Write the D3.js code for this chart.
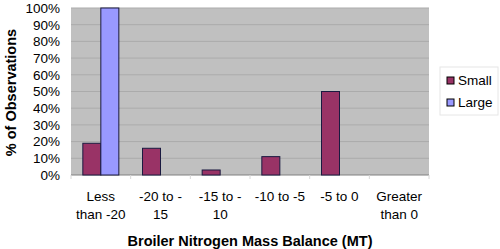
<!DOCTYPE html>
<html>
<head>
<meta charset="utf-8">
<script src="https://cdn.jsdelivr.net/npm/d3@7"></script>
<style>
  html, body { margin: 0; padding: 0; background: #fff; }
  svg { display: block; font-family: "Liberation Sans", Arial, sans-serif; }
</style>
</head>
<body>
<svg id="chart" width="500" height="249"></svg>
<script>
// ---- data ----
const categories = ['Less|than -20', '-20 to -|15', '-15 to -|10', '-10 to -5', '-5 to 0', 'Greater|than 0'];
const series = ['Small', 'Large'];
const smallValues = [19, 16, 3, 11, 50, 0];
const largeValues = [100, 0, 0, 0, 0, 0];
const yTicks = [0, 10, 20, 30, 40, 50, 60, 70, 80, 90, 100];
const colors = { Small: '#993366', Large: '#9999ff' };

const svg = d3.select('#chart');
const margin = { top: 8, right: 71, bottom: 74, left: 71 };
const W = 500, H = 249;
const iW = W - margin.left - margin.right;
const iH = H - margin.top - margin.bottom;

const x = d3.scaleBand().domain(d3.range(categories.length))
  .range([margin.left, margin.left + iW]);
const y = d3.scaleLinear().domain([0, 100]).range([margin.top + iH, margin.top]);
const barW = 18;

// plot area
svg.append('rect')
  .attr('x', margin.left).attr('y', margin.top)
  .attr('width', iW).attr('height', iH)
  .attr('fill', '#c0c0c0');

// gridlines
svg.append('g').selectAll('line')
  .data(yTicks.slice(1))
  .join('line')
  .attr('x1', margin.left).attr('x2', margin.left + iW)
  .attr('y1', d => y(d)).attr('y2', d => y(d))
  .attr('stroke', '#ababab').attr('stroke-width', 1);

// y axis
svg.append('g')
  .attr('transform', `translate(${margin.left},0)`)
  .call(d3.axisLeft(y).tickValues(yTicks).tickSize(0).tickPadding(11).tickFormat(d => d + '%'))
  .call(g => {
    g.select('.domain').remove();
    g.selectAll('text').attr('fill', '#000').attr('font-size', 13.5)
      .attr('font-family', '"Liberation Sans", Arial, sans-serif');
  });

// x axis
const xAxis = svg.append('g')
  .attr('transform', `translate(0,${margin.top + iH})`);
xAxis.append('line')
  .attr('x1', margin.left).attr('x2', margin.left + iW)
  .attr('stroke', '#808080');
xAxis.selectAll('line.tick')
  .data(d3.range(categories.length + 1))
  .join('line').attr('class', 'tick')
  .attr('x1', i => margin.left + i * x.bandwidth())
  .attr('x2', i => margin.left + i * x.bandwidth())
  .attr('y1', 0).attr('y2', 4)
  .attr('stroke', '#d8d8d8');

const xLabels = xAxis.selectAll('text')
  .data(categories)
  .join('text')
  .attr('text-anchor', 'middle')
  .attr('font-size', 13.5)
  .attr('fill', '#000');
xLabels.each(function (d, i) {
  const t = d3.select(this);
  d.split('|').forEach((line, j) => {
    t.append('tspan')
      .attr('x', x(i) + x.bandwidth() / 2)
      .attr('y', 26 + j * 18)
      .text(line);
  });
});

// bars
const rows = categories.map((c, i) => ({ i, Small: smallValues[i], Large: largeValues[i] }));
series.forEach((s, k) => {
  svg.append('g').selectAll('rect')
    .data(rows.filter(r => r[s] > 0))
    .join('rect')
    .attr('x', r => x(r.i) + x.bandwidth() / 2 - barW + k * barW)
    .attr('y', r => y(r[s]))
    .attr('width', barW)
    .attr('height', r => y(0) - y(r[s]))
    .attr('fill', colors[s])
    .attr('stroke', '#1a1a40')
    .attr('stroke-width', 1);
});

// axis titles
svg.append('text')
  .attr('x', 250).attr('y', 246)
  .attr('text-anchor', 'middle')
  .attr('font-size', 14.5).attr('font-weight', 'bold')
  .text('Broiler Nitrogen Mass Balance (MT)');

svg.append('text')
  .attr('transform', 'rotate(-90)')
  .attr('x', -(margin.top + iH / 2 + 1)).attr('y', 16)
  .attr('text-anchor', 'middle')
  .attr('font-size', 14.5).attr('font-weight', 'bold')
  .text('% of Observations');

// legend
const lg = svg.append('g').attr('transform', 'translate(440,67)');
lg.append('rect')
  .attr('width', 58).attr('height', 48)
  .attr('fill', '#fff').attr('stroke', '#e6e6e6');
series.forEach((s, k) => {
  lg.append('rect')
    .attr('x', 7).attr('y', 10 + k * 22)
    .attr('width', 7).attr('height', 7)
    .attr('fill', colors[s]).attr('stroke', '#000');
  lg.append('text')
    .attr('x', 18).attr('y', 18 + k * 22)
    .attr('font-size', 13.5)
    .text(s);
});
</script>
</body>
</html>
